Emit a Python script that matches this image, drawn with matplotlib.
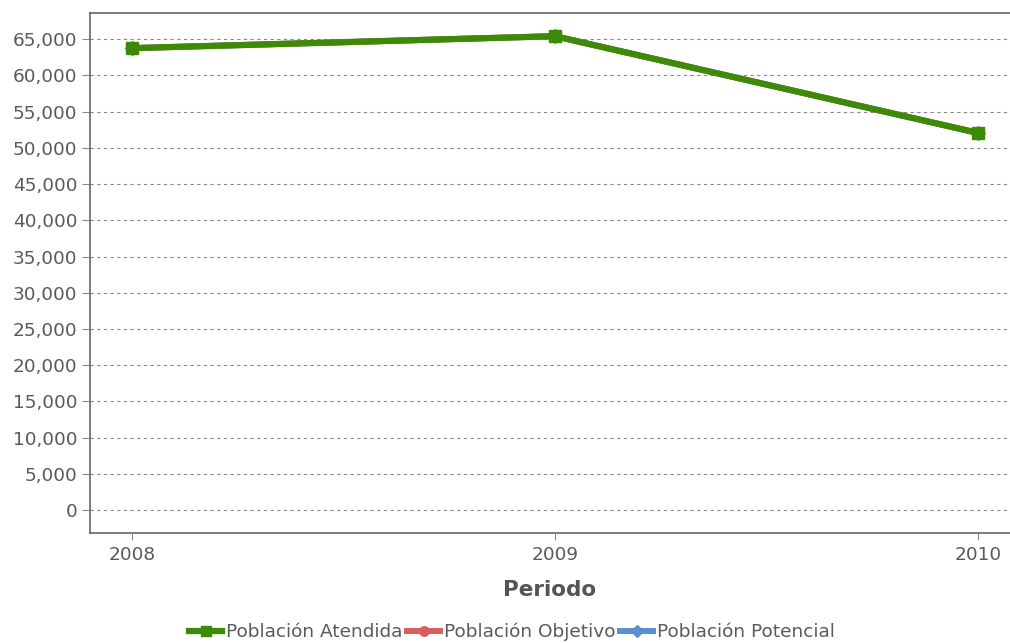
import matplotlib
matplotlib.use("Agg")
import matplotlib.pyplot as plt
from matplotlib.ticker import FuncFormatter, MultipleLocator

years = [2008, 2009, 2010]
atendida = [63750, 65400, 52050]
objetivo = [63750, 65400, 52050]
potencial = [63750, 65400, 52050]
series_names = ["Población Atendida", "Población Objetivo", "Población Potencial"]
x_label = "Periodo"

fig = plt.figure(figsize=(10.10, 6.43), dpi=100)
ax = fig.add_axes([90/1010, 1 - 533/643, 1 - 90/1010, (533 - 13)/643])

ax.plot(years, potencial, color="#5b8fcf", lw=4.3, marker="D", ms=7, label=series_names[2], zorder=2)
ax.plot(years, objetivo, color="#d9605a", lw=4.3, marker="o", ms=8, label=series_names[1], zorder=3)
ax.plot(years, atendida, color="#3d8a06", lw=4.5, marker="s", ms=8.5, label=series_names[0], zorder=4)

ax.set_xlim(2008 - 42/423, 2010 + 32/423)
ax.set_ylim(-3150, 68600)
ax.yaxis.set_major_locator(MultipleLocator(5000))
ax.yaxis.set_major_formatter(FuncFormatter(lambda v, p: f"{int(v):,}"))
ax.set_xticks(years)
ax.set_xticklabels([str(y) for y in years])

ax.grid(axis="y", color="#888888", ls=(0, (3, 3)), lw=0.8)
ax.set_axisbelow(True)
ax.spines["right"].set_visible(False)
for s in ["left", "top", "bottom"]:
    ax.spines[s].set_color("#666666")
    ax.spines[s].set_linewidth(1.2)
ax.tick_params(axis="y", length=6, color="#888888", labelsize=13.3, labelcolor="#5a5a5a", pad=3)
ax.tick_params(axis="x", length=5, color="#888888", labelsize=13.3, labelcolor="#5a5a5a", pad=4)
ax.set_xlabel(x_label, fontsize=15.5, fontweight="bold", color="#555555", labelpad=12)

handles, labels = ax.get_legend_handles_labels()
order = [2, 1, 0]
leg = fig.legend([handles[i] for i in order], [labels[i] for i in order],
                 loc="center", bbox_to_anchor=(512/1010, 1 - 632/643), ncol=3,
                 frameon=False, fontsize=13.3, handlelength=1.8, handletextpad=0.2,
                 columnspacing=0.25, labelcolor="#5a5a5a", markerscale=0.85)

fig.savefig("out.png", dpi=100)
